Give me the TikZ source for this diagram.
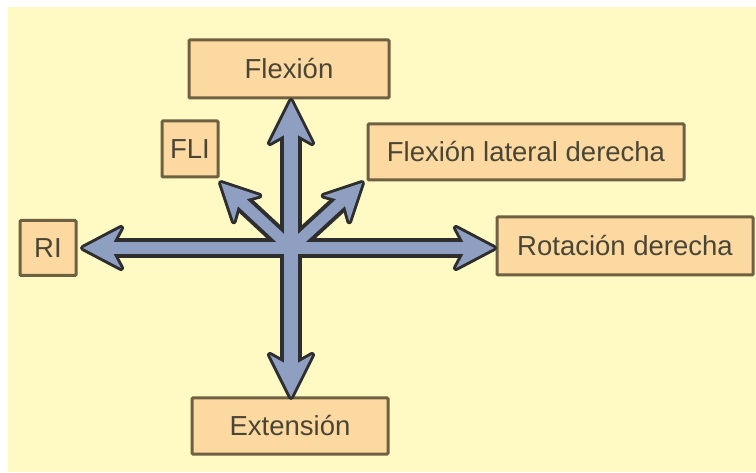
\documentclass[tikz,border=0pt]{standalone}
\usepackage{fontspec}
\setmainfont{Liberation Sans}
\usetikzlibrary{calc}
\definecolor{paper}{HTML}{FFF9C3}
\definecolor{boxfill}{HTML}{FBD9A0}
\definecolor{boxline}{HTML}{6E6040}
\definecolor{shaft}{HTML}{8E9FC2}
\definecolor{rim}{HTML}{2E2E2E}
\definecolor{ink}{HTML}{4A4535}
\tikzset{
  label box/.style={draw=boxline, line width=3pt, fill=boxfill, rounded corners=1pt,
    inner sep=0pt, font=\fontsize{27.5}{29}\selectfont, text=ink},
}
% arrowhead outline with its tip at the origin, pointing along +x
\newcommand\headshape[2]{(0,0) -- (-#1,-#2) -- (-0.72*#1,0) -- (-#1,#2) -- cycle}
\begin{document}
\begin{tikzpicture}[x=1pt,y=-1pt]
\useasboundingbox (0,0) rectangle (756,473);
\fill[paper] (8,7) rectangle (756,472);

% labels
\node[label box, minimum width=200pt, minimum height=58pt] (flex) at (289,69) {Flexión};
\node[label box, minimum width=56pt, minimum height=56pt] (fli) at (190,149) {FLI};
\node[label box, minimum width=316pt, minimum height=56pt] (fld) at (526,152) {Flexión lateral derecha};
\node[label box, minimum width=56pt, minimum height=55pt] (ri) at (48,248) {RI};
\node[label box, minimum width=256pt, minimum height=58pt] (rot) at (625,246) {Rotación derecha};
\node[label box, minimum width=196pt, minimum height=56pt] (ext) at (290,426) {Extensión};

% arrow geometry: common origin and the six tips
\coordinate (c) at (291,248);
\coordinate (tN) at (291,101);
\coordinate (tS) at (291,397);
\coordinate (tW) at (83,248);
\coordinate (tE) at (494,248);
\coordinate (tNW) at (221,183);
\coordinate (tNE) at (362,183);

% dark rims first
\foreach \t/\a/\w/\L/\H in {tN/90/22/42/21, tS/-90/22/42/21, tW/180/20/38/20, tE/0/20/38/20, tNW/135/19/36/18, tNE/45/19/36/18}{
  \draw[rim, line width=\w pt] (c) -- ($(\t)!18pt!(c)$);
  \filldraw[rim, line width=6pt, line join=round, shift={(\t)}, rotate=\a] \headshape{\L}{\H};
}
% blue fill on top
\foreach \t/\a/\w/\L/\H in {tN/90/14/42/21, tS/-90/14/42/21, tW/180/12/38/20, tE/0/12/38/20, tNW/135/11/36/18, tNE/45/11/36/18}{
  \draw[shaft, line width=\w pt] (c) -- ($(\t)!18pt!(c)$);
  \fill[shaft, shift={(\t)}, rotate=\a] \headshape{\L}{\H};
}
\end{tikzpicture}
\end{document}
